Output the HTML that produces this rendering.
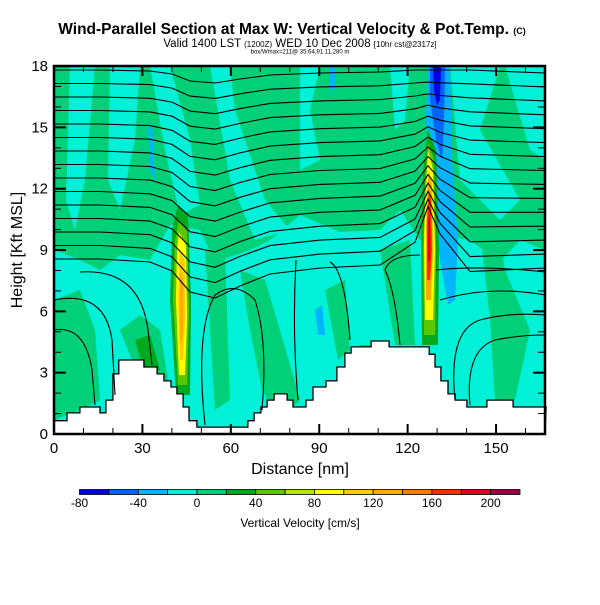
<!DOCTYPE html>
<html><head><meta charset="utf-8"><style>
body{margin:0;background:#fff;}
svg text{font-family:"Liberation Sans",sans-serif;}
</style></head><body>
<svg id="chart" width="600" height="600" viewBox="0 0 600 600" xmlns="http://www.w3.org/2000/svg">
<text x="292" y="34" text-anchor="middle" font-size="15.5" font-weight="bold">Wind-Parallel Section at Max W: Vertical Velocity &amp; Pot.Temp. <tspan font-size="9">(C)</tspan></text>
<text x="300" y="47" text-anchor="middle" font-size="11.5">Valid 1400 LST <tspan font-size="8">(1200Z)</tspan> WED 10 Dec 2008 <tspan font-size="8">[10hr cst@2317z]</tspan></text>
<text x="300" y="53.5" text-anchor="middle" font-size="6">box/Wmax=211@ 35.64,91 11,280 m</text>
<defs><clipPath id="pc"><rect x="54" y="66" width="491" height="368"/></clipPath></defs>
<g id="field" clip-path="url(#pc)"></g>
<g id="terrain"></g>
<g id="contours" clip-path="url(#pc)"></g>
<rect x="54" y="66" width="491" height="368" fill="none" stroke="#000" stroke-width="2.5"/>
<g id="axes"></g>
<text x="300" y="474" text-anchor="middle" font-size="16">Distance [nm]</text>
<text transform="translate(22,250) rotate(-90)" text-anchor="middle" font-size="16">Height [Kft MSL]</text>
<g id="cbar"></g>
<text x="300" y="527" text-anchor="middle" font-size="12">Vertical Velocity [cm/s]</text>
</svg>
<script>
const xTicks=[0,30,60,90,120,150];
const yTicks=[0,3,6,9,12,15,18];
const cbLevels=[-80,-60,-40,-20,0,20,40,60,80,100,120,140,160,180,200,220];
const cbColors=["#0000e6","#0064ff","#00b4ff","#00f0d8","#00d078","#00aa1e","#5ac800","#b4e600","#ffff00","#ffcc00","#ffaa00","#ff7800","#ff2a00","#e00020","#a00046"];
const cbLabels=[-80,-40,0,40,80,120,160,200];
const terrainSteps=[[0,4.4,0.65],[4.4,8.8,1.03],[8.8,15.6,1.32],[15.6,17.6,1.03],[17.6,20,1.66],[20,22,2.94],[22,30.5,3.62],[30.5,35,3.28],[35,37.3,2.94],[37.3,39.7,2.6],[39.7,41.7,2.3],[41.7,43.8,1.96],[43.8,45.8,1.32],[45.8,48.5,0.65],[48.5,65.8,0.34],[65.8,67.9,0.65],[67.9,70.2,1.03],[70.2,72.3,1.32],[72.3,74.7,1.66],[74.7,79.1,1.96],[79.1,81.1,1.66],[81.1,85.5,1.32],[85.5,87.9,1.66],[87.9,92.3,2.3],[92.3,96,2.6],[96,98.7,3.28],[98.7,100.8,3.96],[100.8,107.6,4.26],[107.6,113.7,4.55],[113.7,127.3,4.26],[127.3,129.3,3.9],[129.3,131.3,3.28],[131.3,133.7,2.6],[133.7,136.1,1.96],[136.1,140.1,1.66],[140.1,146.9,1.32],[146.9,155.8,1.66],[155.8,167,1.32]];
const NS="http://www.w3.org/2000/svg";
const X=d=>54+d*2.947, Y=h=>434-h*20.44;
function mk(parent,tag,attrs){const e=document.createElementNS(NS,tag);for(const k in attrs)e.setAttribute(k,attrs[k]);parent.appendChild(e);return e;}
const F=document.getElementById('field');
const CY="#00f0d8",GR="#00d078",DG="#00aa1e";
let e;
e=mk(F,'rect',{x:54,y:66,width:491,height:368,fill:CY});


const shapes=[
 [GR,"M54,66 L545,66 L545,250 L520,240 L500,262 L470,240 L440,235 L420,240 L400,210 L380,230 L340,232 L300,215 L270,240 L250,250 L215,262 L200,230 L170,225 L150,260 L120,255 L100,270 L80,260 L54,250Z"],
 [CY,"M70,66 L95,66 L85,180 L75,230 L66,200Z"],
 [CY,"M110,66 L140,66 L135,140 L120,210 L108,180Z"],
 [CY,"M150,66 L170,66 L190,140 L200,205 L180,215 L165,150Z"],
 [CY,"M210,66 L230,66 L235,110 L265,200 L290,230 L255,240 L230,180Z"],
 [CY,"M300,66 L320,66 L310,110 L320,160 L300,170Z"],
 [CY,"M390,66 L410,66 L405,120 L395,130Z"],
 [CY,"M450,66 L500,66 L480,130 L520,200 L500,220 L460,180Z"],
 [CY,"M505,66 L545,66 L545,160 L530,150Z"],
 [GR,"M54,300 L80,290 L95,330 L100,400 L80,410 L54,420Z"],
 [GR,"M120,330 L140,315 L160,330 L168,380 L140,380Z"],
 [DG,"M135,340 L150,335 L160,370 L145,375Z"],
 [GR,"M240,270 L265,280 L280,330 L300,400 L280,420 L262,390 L250,330Z"],
 [GR,"M325,290 L345,280 L350,350 L338,360Z"],
 [GR,"M380,250 L410,240 L415,345 L395,345Z"],
 [GR,"M480,230 L495,220 L505,270 L530,330 L515,400 L495,400 L490,320Z"],
 [GR,"M205,250 L225,255 L230,400 L215,410Z"],
 [GR,"M345,360 L360,345 L380,345 L360,385Z"],
 ["#00b4ff","M315,310 L322,305 L325,335 L318,335Z"],
 ["#00b4ff","M148,125 L152,125 L155,180 L150,170Z"],
 ["#00b4ff","M330,66 L336,66 L336,90 L330,90Z"],
 [DG,"M178,205 L188,215 L191,300 L190,395 L176,395 L170,300 L172,230Z"],
 ["#5ac800","M179,220 L187,232 L189,310 L187,385 L178,385 L173,300 L175,240Z"],
 ["#ffff00","M179,232 L186,245 L187,320 L185,375 L179,375 L176,300 L177,250Z"],
 ["#ffcc00","M180,250 L185,262 L185,320 L183,360 L180,360 L178,300Z"],
 ["#ffaa00","M180,270 L183,280 L183,330 L181,345 L180,340Z"],
 ["#00b4ff","M428,66 L450,66 L452,160 L458,240 L455,300 L448,305 L440,260 L432,180 L426,120Z"],
 ["#0064ff","M430,66 L445,66 L444,120 L442,160 L436,140 L430,100Z"],
 ["#0000e6","M433,66 L441,66 L440,100 L437,105 L434,90Z"],
 [DG,"M428,130 L436,150 L439,250 L438,345 L422,345 L421,250 L423,170Z"],
 ["#5ac800","M428,142 L434,160 L436,250 L435,335 L424,335 L423,250 L425,180Z"],
 ["#ffff00","M428,150 L433,170 L435,250 L433,320 L425,320 L424,240 L426,185Z"],
 ["#ffaa00","M429,170 L432,185 L433,250 L431,300 L426,300 L426,230 L427,190Z"],
 ["#ff2a00","M429,190 L431,200 L432,250 L430,280 L427,280 L427,220Z"],
 ["#e00020","M429,210 L430,220 L430,260 L428,262 L428,225Z"]
];
shapes.forEach(([c,d])=>{const p=mk(F,'path',{d:d,fill:c});

});
const T=document.getElementById('terrain');
let pts=[[X(0),434]];
terrainSteps.forEach(s=>{pts.push([X(s[0]),Y(s[2])]);pts.push([X(s[1]),Y(s[2])]);});
pts.push([545,434]);
const tp=mk(T,'polygon',{points:pts.map(p=>p.map(v=>v.toFixed(1)).join(',')).join(' '),fill:'#fff',stroke:'#000','stroke-width':1.3});


const C=document.getElementById('contours');
const cx=[54,100,150,172,190,215,240,270,320,380,415,428,440,470,545];
const cshift=[0,0,2,8,22,26,18,10,6,4,0,0,0,6,6];
for(let i=0;i<15;i++){
  const y0=70+i*13.5;
  let d='';
  cx.forEach((x,j)=>{let s=cshift[j];
    if(j==10)s=-i*0.8; if(j==11)s=-i*2.5; if(j==12)s=-i*1.2; if(j==13)s=i*0.6;
    const y=y0+s*(0.5+i/14);d+=(j?'L':'M')+x+','+y.toFixed(1);});
  const p=mk(C,'path',{d:d,fill:'none',stroke:'#000','stroke-width':1.1});
  
  
}
const lower=["M54,330 Q85,325 92,370 L95,405","M54,300 Q105,290 112,340 L115,395","M80,272 Q140,268 148,330 L152,365","M205,425 Q195,330 215,295 Q235,280 255,300 Q268,340 262,410","M296,260 Q292,330 298,400","M330,262 Q345,270 350,340","M436,270 Q480,265 545,272","M440,300 Q490,285 545,295","M455,400 Q448,330 480,320 Q510,312 545,315","M470,405 Q465,350 495,340 Q520,335 545,335","M400,345 Q395,290 385,270 Q390,255 420,255"];
lower.forEach(d=>{const p=mk(C,'path',{d:d,fill:'none',stroke:'#000','stroke-width':1.1});

});
const A=document.getElementById('axes');
for(let d=0;d<=165;d+=10){const maj=d%30==0,L=maj?10:6;
  [[434,434-L],[66,66+L]].forEach(([a,b])=>{const t=mk(A,'line',{x1:X(d),x2:X(d),y1:a,y2:b,stroke:'#000','stroke-width':maj?2:1});
  
  });}
xTicks.forEach(v=>{const t=mk(A,'text',{x:X(v),y:453,'text-anchor':'middle','font-size':15});t.textContent=v;

});
for(let h=0;h<=18;h++){const maj=h%3==0,L=maj?12:7;
  [[54,54+L],[545,545-L]].forEach(([a,b])=>{const t=mk(A,'line',{x1:a,x2:b,y1:Y(h),y2:Y(h),stroke:'#000','stroke-width':maj?2:1});
  
  });}
yTicks.forEach(v=>{const t=mk(A,'text',{x:48,y:Y(v)+5,'text-anchor':'end','font-size':15});t.textContent=v;

});
const CB=document.getElementById('cbar');
const cbX=v=>79.5+(v-(-80))*(520-79.5)/300;
cbColors.forEach((c,i)=>{const r=mk(CB,'rect',{x:cbX(cbLevels[i]),y:489.5,width:cbX(cbLevels[i+1])-cbX(cbLevels[i]),height:5,fill:c,stroke:'#000','stroke-width':0.8});

});
cbLabels.forEach(v=>{const t=mk(CB,'text',{x:cbX(v),y:507,'text-anchor':'middle','font-size':12});t.textContent=v;

});
</script>
</body></html>
